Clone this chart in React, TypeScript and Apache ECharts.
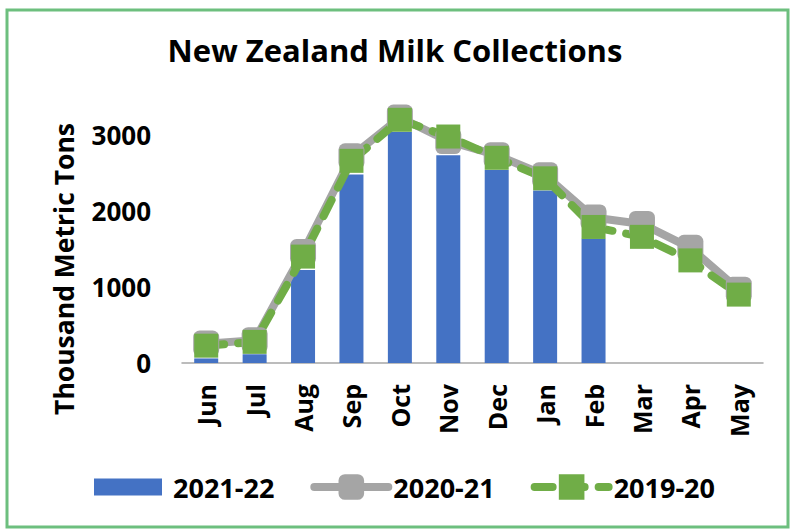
import React, { useEffect, useRef } from "react";
import * as echarts from "echarts";

const categories = ["Jun", "Jul", "Aug", "Sep", "Oct", "Nov", "Dec", "Jan", "Feb", "Mar", "Apr", "May"];
const series2122 = [60, 115, 1225, 2480, 3040, 2735, 2540, 2270, 1635, null, null, null];
const series2021 = [255, 300, 1460, 2720, 3230, 2920, 2735, 2470, 1915, 1830, 1515, 965];
const series1920 = [228, 278, 1400, 2660, 3200, 2980, 2700, 2430, 1790, 1660, 1350, 900];
const seriesNames = ["2021-22", "2020-21", "2019-20"];
const yTicks = [0, 1000, 2000, 3000];

const FONT = "Open Sans";

export default function App() {
  const ref = useRef<HTMLDivElement>(null);
  useEffect(() => {
    if (!ref.current) return;
    const chart = echarts.init(ref.current, null, { renderer: "svg" });
    chart.setOption({
      animation: false,
      backgroundColor: "#ffffff",
      title: {
        text: "New Zealand Milk Collections",
        left: "center",
        top: 29,
        textStyle: { fontFamily: FONT, fontWeight: "bold", fontSize: 31, color: "#000" },
      },
      graphic: [
        {
          type: "rect",
          shape: { x: 7, y: 10, width: 781, height: 517 },
          style: { fill: "none", stroke: "#6dbf7e", lineWidth: 3 },
          silent: true,
        },
        {
          type: "text",
          x: 64,
          y: 269,
          rotation: Math.PI / 2,
          style: {
            text: "Thousand Metric Tons",
            fontFamily: FONT,
            fontWeight: "bold",
            fontSize: 26.5,
            fill: "#000",
            align: "center",
            verticalAlign: "middle",
          },
        },
      ],
      legend: {
        top: 471,
        left: 94,
        padding: 0,
        itemWidth: 74,
        itemHeight: 32,
        itemGap: 36,
        textStyle: { fontFamily: FONT, fontWeight: "bold", fontSize: 27, color: "#000" },
        data: [
          { name: seriesNames[0], icon: "path://M0,0 M0,7.5 L68,7.5 L68,24.5 L0,24.5 Z M74,32" },
          { name: seriesNames[1], lineStyle: { width: 8, cap: "round" } },
          { name: seriesNames[2], lineStyle: { width: 8, cap: "round", type: [18, 14] } },
        ],
      },
      grid: { left: 182, right: 27, top: 97, bottom: 166, containLabel: false },
      xAxis: {
        type: "category",
        data: categories,
        axisLine: { lineStyle: { color: "#a6a6a6", width: 1.5 } },
        axisTick: { show: false },
        axisLabel: {
          rotate: 90,
          margin: 21,
          fontFamily: FONT,
          fontWeight: "bold",
          fontSize: 25,
          color: "#000",
          interval: 0,
        },
      },
      yAxis: {
        type: "value",
        min: 0,
        max: 3500,
        interval: 1000,
        splitLine: { show: false },
        axisLine: { show: false },
        axisTick: { show: false },
        axisLabel: {
          margin: 31,
          fontFamily: FONT,
          fontWeight: "bold",
          fontSize: 26,
          color: "#000",
          formatter: (v: number) => (yTicks.indexOf(v) >= 0 ? String(v) : ""),
        },
      },
      series: [
        {
          name: seriesNames[0],
          type: "bar",
          data: series2122,
          barWidth: 24,
          itemStyle: { color: "#4472c4" },
        },
        {
          name: seriesNames[1],
          type: "line",
          data: series2021,
          symbol: "roundRect",
          symbolSize: 26,
          clip: false,
          itemStyle: { color: "#a5a5a5" },
          lineStyle: { color: "#a5a5a5", width: 8, cap: "round", join: "round" },
        },
        {
          name: seriesNames[2],
          type: "line",
          data: series1920,
          symbol: "rect",
          symbolSize: 24,
          clip: false,
          itemStyle: { color: "#70ad47" },
          lineStyle: { color: "#70ad47", width: 8, type: [18, 14], cap: "round", join: "round" },
        },
      ],
    });
    return () => chart.dispose();
  }, []);
  return (
    <div
      ref={ref}
      style={{ position: "absolute", left: 0, top: 0, width: 790, height: 529 }}
    />
  );
}
